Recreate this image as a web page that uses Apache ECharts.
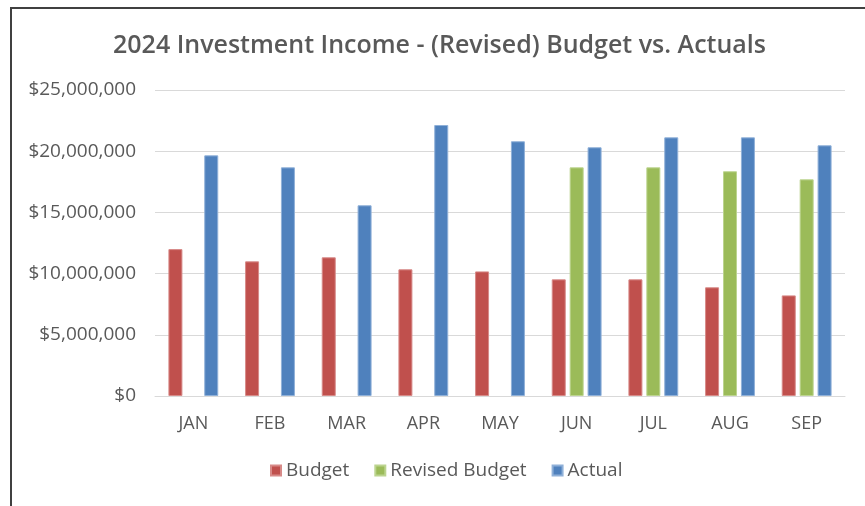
<!DOCTYPE html>
<html>
<head>
<meta charset="utf-8">
<script src="https://cdn.jsdelivr.net/npm/echarts@6/dist/echarts.min.js"></script>
<style>
html,body{margin:0;padding:0;background:#fff;}
#chart{width:865px;height:506px;}
</style>
</head>
<body>
<div id="chart"></div>
<script>
const titleText = '2024 Investment Income - (Revised) Budget vs. Actuals';
const months = ['JAN','FEB','MAR','APR','MAY','JUN','JUL','AUG','SEP'];
const budget = [12000000, 11000000, 11330000, 10350000, 10180000, 9530000, 9530000, 8880000, 8220000];
const revisedBudget = [null, null, null, null, null, 18680000, 18680000, 18360000, 17700000];
const actual = [19660000, 18680000, 15580000, 22140000, 20810000, 20320000, 21130000, 21130000, 20480000];
const yTicks = [0, 5000000, 10000000, 15000000, 20000000, 25000000];

const FONT = '"Open Sans", sans-serif';
const TXT = '#595959';
const chart = echarts.init(document.getElementById('chart'), null, {renderer: 'canvas'});

function money(v) {
  return '$' + Math.round(v).toString().replace(/\B(?=(\d{3})+(?!\d))/g, ',');
}

const barBase = {
  type: 'bar',
  barWidth: 14,
  barGap: '28%'
};

chart.setOption({
  animation: false,
  backgroundColor: '#fff',
  title: {
    text: titleText,
    left: 113,
    top: 33,
    padding: 0,
    textStyle: {fontFamily: FONT, fontSize: 25, fontWeight: 600, color: TXT}
  },
  legend: {
    bottom: 21,
    left: 265,
    itemWidth: 10,
    itemHeight: 10,
    itemGap: 25,
    icon: 'rect',
    textStyle: {fontFamily: FONT, fontSize: 19, color: TXT},
    data: ['Budget', 'Revised Budget', 'Actual']
  },
  grid: {left: 155, right: 20, top: 90, bottom: 110, containLabel: false},
  xAxis: {
    type: 'category',
    data: months,
    axisLine: {lineStyle: {color: '#d9d9d9', width: 1}},
    axisTick: {show: false},
    axisLabel: {fontFamily: FONT, fontSize: 18, color: TXT, margin: 19}
  },
  yAxis: {
    type: 'value',
    min: yTicks[0],
    max: yTicks[yTicks.length - 1],
    interval: yTicks[1] - yTicks[0],
    axisLine: {show: false},
    axisTick: {show: false},
    splitLine: {lineStyle: {color: '#d9d9d9', width: 1}},
    axisLabel: {fontFamily: FONT, fontSize: 19, color: TXT, margin: 19, formatter: money}
  },
  series: [
    Object.assign({}, barBase, {name: 'Budget', data: budget, itemStyle: {color: '#C0504D', borderColor: '#d78a88', borderWidth: 1}}),
    Object.assign({}, barBase, {name: 'Revised Budget', data: revisedBudget, itemStyle: {color: '#9BBB59', borderColor: '#bcd48f', borderWidth: 1}}),
    Object.assign({}, barBase, {name: 'Actual', data: actual, itemStyle: {color: '#4F81BD', borderColor: '#8fb0d8', borderWidth: 1}})
  ],
  graphic: [{
    type: 'rect',
    shape: {x: 11, y: 8, width: 900, height: 600},
    style: {fill: 'none', stroke: '#404040', lineWidth: 2},
    silent: true
  }]
});
</script>
</body>
</html>
